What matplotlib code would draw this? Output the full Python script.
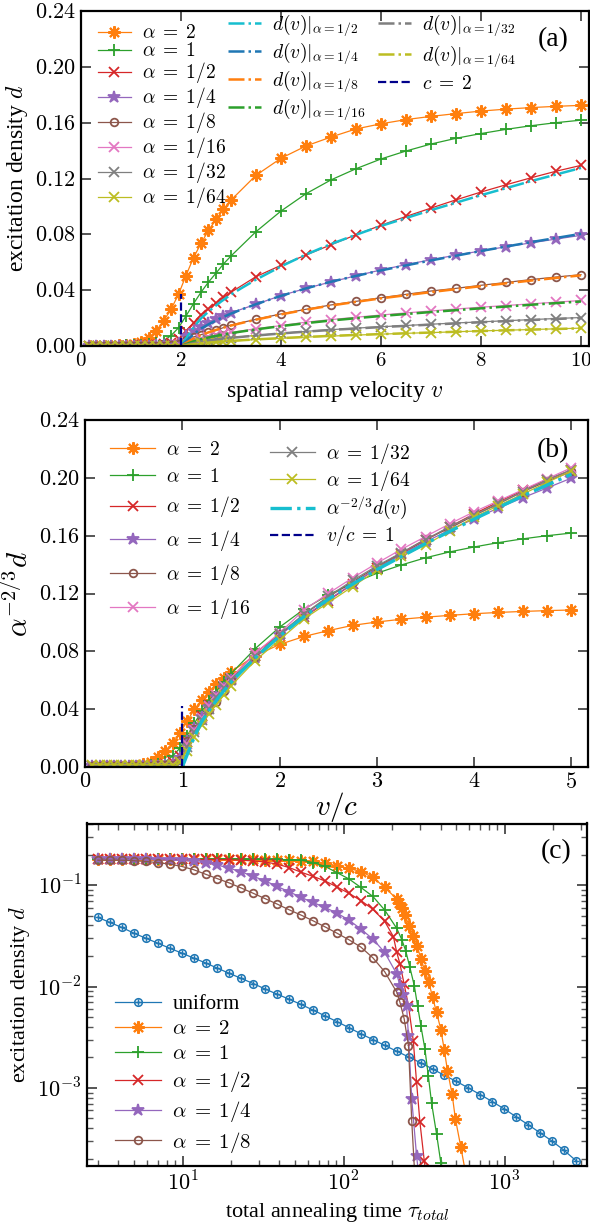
import numpy as np
import matplotlib
matplotlib.use("Agg")
import matplotlib.pyplot as plt
from matplotlib.path import Path
from matplotlib.ticker import FixedLocator, FuncFormatter, LogLocator, NullFormatter

plt.rcParams['font.family'] = ['Liberation Serif', 'DejaVu Serif']
plt.rcParams['mathtext.fontset'] = 'cm'

# ---------------- data: panel (a) / (b) ----------------
v = [0.15, 0.3, 0.45, 0.6, 0.75, 0.9, 1.05, 1.2, 1.35, 1.5, 1.65, 1.8, 1.95,
     2.1, 2.25, 2.4, 2.55, 2.7, 2.85, 3.0, 3.5, 4.0, 4.5, 5.0, 5.5, 6.0, 6.5,
     7.0, 7.5, 8.0, 8.5, 9.0, 9.5, 10.0]

alphas = [2, 1, 1/2, 1/4, 1/8, 1/16, 1/32, 1/64]
alpha_names = ['2', '1', '1/2', '1/4', '1/8', '1/16', '1/32', '1/64']

d_a2 = [0.0003, 0.0003, 0.0003, 0.0003, 0.0004, 0.0006, 0.0012, 0.003, 0.0058, 0.0108,
        0.0179, 0.0263, 0.037, 0.0505, 0.0633, 0.0735, 0.0828, 0.0908, 0.0979, 0.1045,
        0.1223, 0.1345, 0.1433, 0.1497, 0.1555, 0.1592, 0.1622, 0.1645, 0.1665, 0.1683,
        0.1697, 0.1708, 0.1717, 0.1724]
d_a1 = [0.0003, 0.0003, 0.0003, 0.0003, 0.0003, 0.0004, 0.0005, 0.0008, 0.0012, 0.002,
        0.0036, 0.0075, 0.013, 0.0215, 0.0303, 0.0385, 0.0458, 0.0522, 0.0588, 0.0645,
        0.0819, 0.0967, 0.1091, 0.119, 0.127, 0.134, 0.1397, 0.1447, 0.1488, 0.1522,
        0.1552, 0.1578, 0.16, 0.1618]
d_a1_2 = [0.0003, 0.0003, 0.0003, 0.0003, 0.0003, 0.0003, 0.0004, 0.0004, 0.0005, 0.0008,
          0.0012, 0.0022, 0.0048, 0.0107, 0.0167, 0.0222, 0.0268, 0.0308, 0.0348, 0.0385,
          0.0497, 0.0578, 0.0652, 0.0725, 0.0797, 0.0865, 0.0928, 0.0988, 0.1047, 0.1103,
          0.1155, 0.1205, 0.1252, 0.1294]
d_a1_4 = [0.0002, 0.0002, 0.0002, 0.0002, 0.0002, 0.0002, 0.0002, 0.0003, 0.0003, 0.0004,
          0.0005, 0.0008, 0.0025, 0.0072, 0.0107, 0.0136, 0.0165, 0.0192, 0.0217, 0.0238,
          0.0299, 0.0361, 0.0413, 0.0459, 0.0503, 0.0545, 0.0583, 0.0618, 0.0651, 0.0681,
          0.0711, 0.0739, 0.0766, 0.0793]
d_a1_8 = [0.0002, 0.0002, 0.0002, 0.0002, 0.0002, 0.0002, 0.0002, 0.0002, 0.0002, 0.0003,
          0.0003, 0.0004, 0.0012, 0.0045, 0.0065, 0.0081, 0.0098, 0.0112, 0.0132, 0.015,
          0.0191, 0.023, 0.0263, 0.0294, 0.032, 0.0346, 0.037, 0.0394, 0.0413, 0.0435,
          0.0455, 0.0476, 0.0494, 0.0511]
d_a1_16 = [0.0001, 0.0001, 0.0001, 0.0001, 0.0001, 0.0001, 0.0001, 0.0001, 0.0001, 0.0002,
           0.0002, 0.0002, 0.0005, 0.0025, 0.004, 0.0053, 0.0066, 0.0078, 0.0088, 0.0097,
           0.0124, 0.0146, 0.0171, 0.0189, 0.0206, 0.0222, 0.0237, 0.0251, 0.0265, 0.0278,
           0.029, 0.0302, 0.0314, 0.0326]
d_a1_32 = [0.0001, 0.0001, 0.0001, 0.0001, 0.0001, 0.0001, 0.0001, 0.0001, 0.0001, 0.0001,
           0.0001, 0.0001, 0.0003, 0.0014, 0.0024, 0.0032, 0.004, 0.0048, 0.0054, 0.006,
           0.0076, 0.0091, 0.0105, 0.0117, 0.0128, 0.0138, 0.0147, 0.0156, 0.0165, 0.0173,
           0.0181, 0.0189, 0.0197, 0.0204]
d_a1_64 = [0.0001, 0.0001, 0.0001, 0.0001, 0.0001, 0.0001, 0.0001, 0.0001, 0.0001, 0.0001,
           0.0001, 0.0001, 0.0002, 0.0007, 0.0013, 0.0018, 0.0023, 0.0027, 0.0031, 0.0035,
           0.0046, 0.0055, 0.0064, 0.0071, 0.0078, 0.0085, 0.0091, 0.0096, 0.0102, 0.0108,
           0.0113, 0.0118, 0.0123, 0.0128]
d_sim = [d_a2, d_a1, d_a1_2, d_a1_4, d_a1_8, d_a1_16, d_a1_32, d_a1_64]

# universal theory curve alpha^{-2/3} d(v), as function of v/c
vc_theory = [1.0, 1.05, 1.1, 1.15, 1.2, 1.3, 1.4, 1.5, 1.6, 1.75, 2.0, 2.25, 2.5, 2.75,
             3.0, 3.25, 3.5, 3.75, 4.0, 4.25, 4.5, 4.75, 5.0]
f_theory = [0.0, 0.0085, 0.017, 0.0245, 0.0315, 0.0415, 0.0505, 0.0585, 0.0655, 0.0755,
            0.0905, 0.104, 0.116, 0.1265, 0.1365, 0.1455, 0.1545, 0.163, 0.1715, 0.1795,
            0.1875, 0.195, 0.2025]
c_speed = 2.0
theory_alphas = [1/2, 1/4, 1/8, 1/16, 1/32, 1/64]
theory_names = ['1/2', '1/4', '1/8', '1/16', '1/32', '1/64']
c_line_top_a = 0.037
c_line_top_b = 0.042

# ---------------- data: panel (c) ----------------
tau_grid = [2.98, 3.53, 4.19, 4.98, 5.90, 7.00, 8.30, 9.86, 11.7, 13.9, 16.4, 19.5, 23.2,
            27.5, 32.6, 38.7, 45.9, 54.5, 64.6, 76.6, 90.9, 108, 128, 152, 180, 214, 254,
            301, 357, 423, 502, 596, 707, 839, 995, 1181, 1401, 1662, 1972, 2339, 2775]
d_uniform = [0.0481, 0.0429, 0.0383, 0.0336, 0.0300, 0.0268, 0.0239, 0.0214, 0.0191, 0.0171,
             0.0152, 0.0135, 0.0120, 0.0107, 0.00944, 0.00841, 0.00750, 0.00665, 0.00586,
             0.00514, 0.00451, 0.00393, 0.00342, 0.00300, 0.00263, 0.00230, 0.00202, 0.00177,
             0.00154, 0.00133, 0.00116, 0.00100, 0.000859, 0.000733, 0.000621, 0.000519,
             0.000434, 0.000361, 0.000299, 0.000243, 0.000192]

tau_c2 = tau_grid[:26] + [221, 232, 241, 255, 271, 287, 302, 320, 339, 357, 378, 402, 422,
                          442, 472, 495, 535, 580]
d_c2 = [0.180, 0.180, 0.180, 0.180, 0.180, 0.180, 0.180, 0.180, 0.180, 0.180, 0.180, 0.179,
        0.179, 0.179, 0.178, 0.178, 0.176, 0.174, 0.171, 0.165, 0.155, 0.146, 0.136, 0.119,
        0.095, 0.073, 0.0665, 0.0589, 0.0506, 0.0397, 0.0317, 0.0249, 0.0187, 0.0143, 0.0110,
        0.00783, 0.00557, 0.00376, 0.00238, 0.00148, 0.000872, 0.000495, 0.000261, 0.00013]
tau_c1 = tau_grid[:26] + [230, 243, 258, 275, 288, 302, 320, 336, 352, 378, 402, 425]
d_c1 = [0.180, 0.180, 0.180, 0.180, 0.180, 0.180, 0.180, 0.180, 0.180, 0.180, 0.180, 0.180,
        0.180, 0.179, 0.179, 0.179, 0.178, 0.176, 0.167, 0.153, 0.133, 0.115, 0.0949, 0.0774,
        0.0568, 0.0374, 0.029, 0.0226, 0.0155, 0.0102, 0.00647, 0.00411, 0.00242, 0.00132,
        0.000711, 0.000352, 0.000182, 0.0001]
tau_c1_2 = tau_grid[:25] + [204, 214, 224, 238, 253, 271, 284, 298, 317, 335]
d_c1_2 = [0.180, 0.180, 0.180, 0.180, 0.180, 0.180, 0.180, 0.180, 0.179, 0.179, 0.179, 0.178,
          0.176, 0.173, 0.169, 0.161, 0.149, 0.134, 0.122, 0.110, 0.096, 0.083, 0.0705, 0.0578,
          0.044, 0.031, 0.0217, 0.0167, 0.0105, 0.00647, 0.00292, 0.00114, 0.00046, 0.000192,
          0.0001]
tau_c1_4 = tau_grid[:26] + [224, 235, 246, 253, 265, 284, 300]
d_c1_4 = [0.180, 0.180, 0.180, 0.179, 0.179, 0.178, 0.176, 0.175, 0.171, 0.166, 0.158, 0.147,
          0.135, 0.122, 0.110, 0.097, 0.086, 0.0756, 0.0675, 0.0602, 0.053, 0.0452, 0.0369,
          0.0294, 0.0217, 0.0133, 0.0102, 0.0082, 0.00647, 0.00327, 0.00078, 0.000215, 0.0001]
tau_c1_8 = tau_grid[:26] + [224, 238, 253, 265, 280]
d_c1_8 = [0.176, 0.176, 0.176, 0.174, 0.171, 0.167, 0.161, 0.153, 0.142, 0.128, 0.116, 0.105,
          0.0935, 0.083, 0.0735, 0.065, 0.0571, 0.0506, 0.0445, 0.0388, 0.0336, 0.0289, 0.0245,
          0.0192, 0.014, 0.0088, 0.00698, 0.00479, 0.00261, 0.000476, 0.0001]

tau_sets = [tau_c2, tau_c1, tau_c1_2, tau_c1_4, tau_c1_8]
d_sets = [d_c2, d_c1, d_c1_2, d_c1_4, d_c1_8]
c_names = ['2', '1', '1/2', '1/4', '1/8']

# ---------------- styles ----------------
sim_colors = ['#ff7f0e', '#2ca02c', '#d62728', '#9467bd', '#8c564b', '#e377c2', '#7f7f7f', '#bcbd22']
asterisk = (8, 2, 0)
sim_markers = [asterisk, '+', 'x', '*', 'o', 'x', 'x', 'x']
sim_ms = [9, 8, 7, 9, 5.5, 7, 7, 7]
sim_mew = [1.5, 1.3, 1.3, 1.3, 1.3, 1.3, 1.3, 1.3]
theory_colors = ['#17becf', '#1f77b4', '#ff7f0e', '#2ca02c', '#7f7f7f', '#bcbd22']

oplus = Path.make_compound_path(
    Path.unit_circle(),
    Path([(-0.75, 0), (0.75, 0), (0, -0.75), (0, 0.75)],
         [Path.MOVETO, Path.LINETO, Path.MOVETO, Path.LINETO]))


def mk_kw(i):
    kw = dict(color=sim_colors[i], marker=sim_markers[i], ms=sim_ms[i], lw=0.9, mew=sim_mew[i])
    if sim_markers[i] == 'o':
        kw['mfc'] = 'none'
    return kw


def a_lab(name):
    return r'$\alpha\;=\;%s$' % name


def style_axes(ax, labelsize=16):
    for s in ax.spines.values():
        s.set_linewidth(1.6)
    ax.tick_params(which='major', direction='in', length=7, width=1.4, color='#555555',
                   labelsize=labelsize, top=True, right=True, pad=4)
    ax.tick_params(which='minor', direction='in', length=4, width=1.0, color='#555555',
                   top=True, right=True)


fig = plt.figure(figsize=(5.9, 12.24), dpi=100)

# ---------------- panel (a) ----------------
ax1 = fig.add_axes([81 / 590, 1 - 346 / 1224, 508 / 590, 335 / 1224])
handles_sim = []
for i, a in enumerate(alphas):
    h, = ax1.plot(v, d_sim[i], label=a_lab(alpha_names[i]), **mk_kw(i))
    handles_sim.append(h)
handles_th = []
for j, a in enumerate(theory_alphas):
    vv = [x * c_speed for x in vc_theory]
    dd = [a ** (2 / 3) * f for f in f_theory]
    h, = ax1.plot(vv, dd, '-.', color=theory_colors[j], lw=1.8,
                  label=r'$d(v)|_{\alpha=%s}$' % theory_names[j])
    handles_th.append(h)
hc, = ax1.plot([c_speed, c_speed], [0, c_line_top_a], '--', color='#00008b', lw=1.6,
               label=r'$c\;=\;2$')
ax1.set_xlim(0, 10.16)
ax1.set_ylim(0, 0.24)
ax1.xaxis.set_major_locator(FixedLocator([0, 2, 4, 6, 8, 10]))
ax1.yaxis.set_major_locator(FixedLocator([0, 0.04, 0.08, 0.12, 0.16, 0.20, 0.24]))
ax1.xaxis.set_major_formatter(FuncFormatter(lambda x, p: r'$%g$' % x))
ax1.yaxis.set_major_formatter(FuncFormatter(lambda y, p: r'$%.2f$' % y))
style_axes(ax1)
ax1.tick_params(axis='x', labelsize=15)
ax1.set_xlabel(r'spatial ramp velocity $v$', fontsize=17, labelpad=6)
ax1.set_ylabel(r'excitation density $d$', fontsize=17, labelpad=3)
ax1.text(0.93, 0.915, '(a)', transform=ax1.transAxes, ha='center', va='center', fontsize=20)

leg_kw = dict(frameon=False, fontsize=14, borderpad=0, borderaxespad=0, handlelength=1.7,
              handletextpad=0.55, labelspacing=0.0, loc='upper left')
l1 = ax1.legend(handles=handles_sim, bbox_to_anchor=(0.033, 0.96), **leg_kw)
ax1.add_artist(l1)
l2 = ax1.legend(handles=handles_th[:4], bbox_to_anchor=(0.289, 0.997),
                **dict(leg_kw, labelspacing=0.12))
ax1.add_artist(l2)
ax1.legend(handles=handles_th[4:] + [hc], bbox_to_anchor=(0.585, 0.997),
           **dict(leg_kw, labelspacing=0.3))

# ---------------- panel (b) ----------------
ax2 = fig.add_axes([85 / 590, 1 - 767 / 1224, 503 / 590, 347 / 1224])
hb = []
for i, a in enumerate(alphas):
    xs = [x / c_speed for x in v]
    ys = [a ** (-2 / 3) * y for y in d_sim[i]]
    h, = ax2.plot(xs, ys, label=a_lab(alpha_names[i]), **mk_kw(i))
    hb.append(h)
ht, = ax2.plot(vc_theory, f_theory, '-.', color='#17becf', lw=2.4,
               label=r'$\alpha^{-2/3}d(v)$')
hv, = ax2.plot([1, 1], [0, c_line_top_b], '--', color='#00008b', lw=1.6,
               label=r'$v/c\;=\;1$')
ax2.set_xlim(0, 5.17)
ax2.set_ylim(0, 0.24)
ax2.xaxis.set_major_locator(FixedLocator([0, 1, 2, 3, 4, 5]))
ax2.yaxis.set_major_locator(FixedLocator([0, 0.04, 0.08, 0.12, 0.16, 0.20, 0.24]))
ax2.xaxis.set_major_formatter(FuncFormatter(lambda x, p: r'$%g$' % x))
ax2.yaxis.set_major_formatter(FuncFormatter(lambda y, p: r'$%.2f$' % y))
style_axes(ax2)
ax2.set_xlabel(r'$v/c$', fontsize=21, labelpad=-2)
ax2.set_ylabel(r'$\alpha^{-2/3}d$', fontsize=21, labelpad=3)
ax2.text(0.93, 0.913, '(b)', transform=ax2.transAxes, ha='center', va='center', fontsize=20)

leg_kw_b = dict(leg_kw, labelspacing=0.45, handlelength=2.3)
l3 = ax2.legend(handles=hb[:6], bbox_to_anchor=(0.05, 0.94), **leg_kw_b)
ax2.add_artist(l3)
ax2.legend(handles=hb[6:] + [ht, hv], bbox_to_anchor=(0.368, 0.94),
           **dict(leg_kw_b, labelspacing=0.1))

# ---------------- panel (c) ----------------
ax3 = fig.add_axes([87 / 590, 1 - 1166 / 1224, 500 / 590, 342.5 / 1224])
hcs = []
h, = ax3.plot(tau_grid, d_uniform, color='#1f77b4', marker=oplus, ms=5.5, mfc='none',
              mew=1.1, lw=0.9, label='uniform')
hcs.append(h)
for i in range(5):
    h, = ax3.plot(tau_sets[i], d_sets[i], label=a_lab(c_names[i]), **mk_kw(i))
    hcs.append(h)
ax3.set_xscale('log')
ax3.set_yscale('log')
ax3.set_xlim(2.55, 3250)
ax3.set_ylim(1.7e-4, 0.405)
ax3.xaxis.set_major_locator(LogLocator(base=10, numticks=10))
ax3.xaxis.set_minor_locator(LogLocator(base=10, subs=np.arange(2, 10), numticks=10))
ax3.yaxis.set_minor_locator(LogLocator(base=10, subs=np.arange(2, 10), numticks=10))
ax3.xaxis.set_minor_formatter(NullFormatter())
ax3.yaxis.set_minor_formatter(NullFormatter())
log_fmt = FuncFormatter(lambda t, p: r'$10^{%d}$' % round(np.log10(t)))
ax3.xaxis.set_major_formatter(log_fmt)
ax3.yaxis.set_major_formatter(log_fmt)
style_axes(ax3, labelsize=16)
ax3.set_xlabel(r'total annealing time $\tau_{total}$', fontsize=16, labelpad=4)
ax3.set_ylabel(r'excitation density $d$', fontsize=16, labelpad=4)
ax3.text(0.938, 0.917, '(c)', transform=ax3.transAxes, ha='center', va='center', fontsize=20)
ax3.legend(handles=hcs, bbox_to_anchor=(0.056, 0.50),
           **dict(leg_kw, fontsize=15, labelspacing=0.25, handlelength=2.2))

fig.savefig('out.png', dpi=100)
